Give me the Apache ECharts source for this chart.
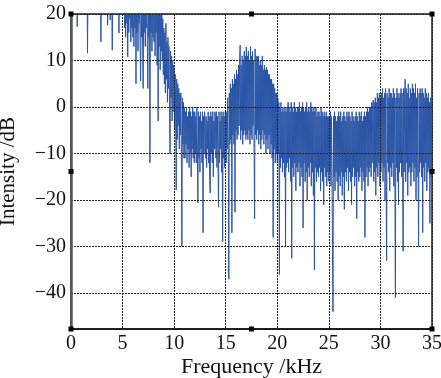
<!DOCTYPE html>
<html>
<head>
<meta charset="utf-8">
<script src="https://cdn.jsdelivr.net/npm/echarts@6/dist/echarts.min.js"></script>
<style>
  html, body { margin: 0; padding: 0; background: #fff; }
  #mountNode { width: 441px; height: 378px; }
</style>
</head>
<body>
<div id="mountNode"></div>
<script>
// spectrum sampled every 0.05 kHz, one row per kHz (values above 20 dB are clipped by the axis)
const freqStart = 0;
const freqStep = 0.05;
const intensity = [
  25, 28, 23, 27, 30, 24, 26, 29, 22, 27, 25, 28, 17.3, 24, 27, 30, 23, 26, 29, 25,
  27, 24, 29, 25, 22, 28, 26, 30, 24, 27, 23, 29, 11.6, 25, 28, 22, 27, 30, 24, 26,
  28, 25, 31, 23, 27, 29, 24, 26, 22, 28, 25, 30, 23, 27, 29, 24, 26, 28, 14, 25,
  26, 29, 24, 28, 25, 27, 30, 23, 26, 29, 24, 17.6, 27, 23, 28, 25, 18.7, 26, 29, 24,
  12.2, 27, 24, 29, 26, 23, 28, 25, 30, 24, 27, 22, 26, 15.9, 28, 25, 29, 23, 27, 24,
  26, 29, 24, 27, 17, 25, 15, 28, 18, 24, 10.8, 26, 16, 23, 19, 27, 14, 25, 17, 22,
  15, 26, 13, 24, 17, 28, 5, 23, 16, 25, 12, 27, 18, 22, 14, 5.6, 26, 15, 24, 11,
  4, 25, 16, 27, 13, 23, 17, 26, 14, 4, 24, 15, 28, -12, 22, 16, 25, 12, 27, 15,
  24, 14, 26, 11, 23, 16, 25, 9, 22, -3, 27, 13, 24, 8, 21, 12, 23, 10, 19, 7,
  17, 5, 16, 3, 18, 6, 14, 1, 15, 4, 13, 0, -10, 12, 2, 11, -3, 10, -1, 9,
  8, -5, 7, -3, -17.8, 6, -7, 5, -4, 4, -9, 3, -6, 3, -10, -30, 2, -8, 1, -11,
  0, -11, -1, -8, 0, -12, -2, -9, -1, -13, 0, -10, -1, -15, -2, -9, 0, -11, -1, -12,
  -1, -10, -2, -12, 0, -9, -20.6, -1, -11, -2, -14, -1, -9, -3, -12, -1, -27, -2, -10, -1,
  -3, -11, -2, -13, -3, -9, -1, -12, -2, -16, -18.5, -1, -10, -2, -12, -1, -15, -3, -9, -1,
  -2, -11, -1, -13, -2, -10, -21.5, -1, -12, -3, -9, -1, -14, -2, -29, -1, -11, -2, -13, -1,
  -2, -12, -1, -9, 2, -11, -37, 3, -8, 5, -7, 4, -27, 6, -6, 5, -8, 7, -22.6, 6,
  -5, 8, -7, 7, -6, 9, -4, 10, 13.3, -7, 9, -5, 11, -8, 10, -6, 12, -5, 11, -7,
  12.9, -6, 11, -7, 12, -5, 10, -8, 13, -6, 11, -7, 12, -4, 10, -9, -24, 12.5, -6, 11,
  -7, 10.8, -5, 11, -8, 9, -6, 10, -9, 9, -7, 11, -5, 8, -8, 9, -6, 8, -10, 8.6,
  -7, 8, -9, 7, -6, 7, -10, 6, -8, 6, -11, 5, -28, 5, -9, 4, -12, 3, -10, 3,
  -12, 2, -10, 1, -36, 0, -13, 1, -11, -1, -14, 0, -12, -1, -15, 0, -30, -1, -13, 0,
  -12, 1, -14, 0, -11, -1, -16, 1, -32.5, 0, -13, -1, -15, 1, -12, 0, -18, -1, -13, 0,
  -14, 0, -12, 1, -17, -1, -13, 0, -15, 1, -26, 0, -12, -1, -16, 0, -14, 1, -20, -1,
  -13, 0, -15, -1, -12, 1, -17, 0, -14, -1, -19, 0, -35, -1, -13, 0, -16, -2, -14, -1,
  -15, -1, -13, -2, -18, 0, -14, -1, -16, -2, -21, -1, -13, -2, -15, -1, -17, -2, -14, -2,
  -16, -2, -14, -1, -17, -2, -13, -30, -44, -2, -15, -1, -18, -2, -14, -3, -16, -2, -20, -1,
  -15, -2, -17, -1, -14, -3, -19, -2, -15, -1, -22, -2, -14, -3, -16, -1, -13, -2, -18, -1,
  -14, -2, -16, -3, -21, -1, -15, -2, -13, -3, -17, -2, -15, -1, -24, -2, -14, -3, -16, -1,
  -15, -2, -13, -1, -18, -3, -14, -2, -16, -1, -28, -2, -15, -1, -13, 0, -17, -1, -14, 0,
  -13, 0, -15, 1, -12, 0, 1.5, -16, 1, -14, 2, -19, 1, -13, 3, -15, 2, -12, 3, -17,
  2, -14, 3, -12, 4, -16, 2, -13, 3, -20, 4, -15, -33, 3, -12, 2, -14, 4, -18, 3,
  -13, 3, -15, 2, -12, 4, -17, 3, -14, -41, 2, -13, 4, -16, 3, -21, 2, -14, 3, -12,
  4, -15, 3, -13, -31, 4, -14, 3, 6, -16, 4, -12, 3, -19, 5, -14, 2, -13, 4, -17,
  3, -14, 5, -12, 4, -16, 3, -13, 5, -20, 2, -15, 4, -13, -30, 3, -14, 4, -12, 3,
  -15, 4, -27, 3, -13, 2, -16, 4, -12, 3, -18, 2, -14, 3, -13, 1, -25, 2, -15, 1,
  -6
];

const seriesData = intensity.map((v, i) => [+(freqStart + i * freqStep).toFixed(2), v]);

const gridBox = { left: 71, right: 9, top: 14, bottom: 49 };
const W = 441, H = 378;
const x0 = gridBox.left, x1 = W - gridBox.right, y0 = gridBox.top, y1 = H - gridBox.bottom;
const xm = (x0 + x1) / 2, ym = (y0 + y1) / 2;
const handles = [[x0, y0], [xm, y0], [x1, y0], [x0, ym], [x1, ym], [x0, y1], [xm, y1], [x1, y1]];

const serif = '"Liberation Serif", "DejaVu Serif", serif';
const minusFmt = (v) => String(v).replace('-', '\u2212');

const chart = echarts.init(document.getElementById('mountNode'), null, { renderer: 'canvas' });
chart.setOption({
  animation: false,
  grid: {
    left: gridBox.left,
    right: gridBox.right,
    top: gridBox.top,
    bottom: gridBox.bottom,
    outerBoundsMode: 'none',
    containLabel: false,
    show: true,
    borderColor: '#555',
    borderWidth: 2
  },
  xAxis: {
    type: 'value',
    min: 0,
    max: 35,
    interval: 5,
    z: 5,
    name: 'Frequency /kHz',
    nameLocation: 'middle',
    nameMoveOverlap: false,
    nameGap: 27,
    nameTextStyle: { fontFamily: serif, fontSize: 22, color: '#111' },
    axisLine: { onZero: false, lineStyle: { color: '#111', width: 1.5 } },
    axisTick: { show: false },
    axisLabel: { fontFamily: serif, fontSize: 20, color: '#111', margin: 5 },
    splitLine: { show: true, lineStyle: { color: '#222', width: 1, type: [2, 1] } }
  },
  yAxis: {
    type: 'value',
    min: -47.7,
    max: 20,
    z: 5,
    name: 'Intensity /dB',
    nameLocation: 'middle',
    nameMoveOverlap: false,
    nameGap: 52,
    nameTextStyle: { fontFamily: serif, fontSize: 21, color: '#111' },
    axisLine: { show: true, onZero: false, lineStyle: { color: '#555', width: 2.5 } },
    axisTick: { show: false },
    axisLabel: {
      fontFamily: serif, fontSize: 20, color: '#111', margin: 5,
      showMinLabel: false,
      formatter: minusFmt
    },
    splitLine: { show: true, lineStyle: { color: '#222', width: 1, type: [2, 1] } }
  },
  series: [{
    type: 'line',
    data: seriesData,
    showSymbol: false,
    sampling: 'none',
    clip: true,
    lineStyle: { color: '#2b56a6', width: 1 }
  }],
  graphic: handles.map(([x, y]) => ({
    type: 'rect',
    shape: { x: x - 2.5, y: y - 2.5, width: 5, height: 5 },
    style: { fill: '#000' },
    z: 100
  }))
});
</script>
</body>
</html>
